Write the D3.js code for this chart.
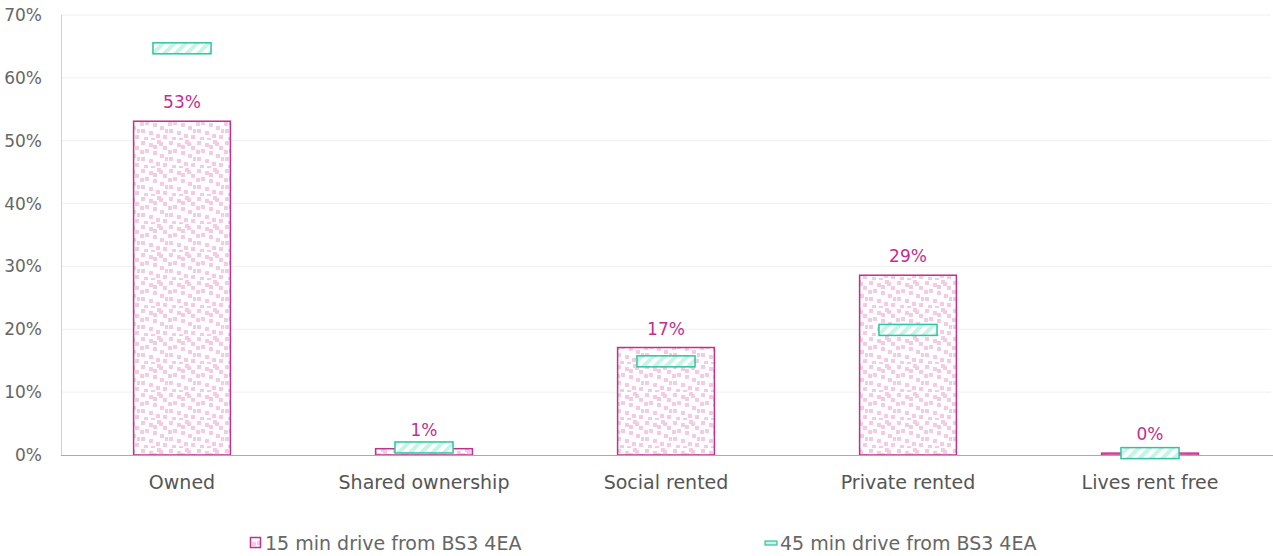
<!DOCTYPE html>
<html><head><meta charset="utf-8">
<script src="https://cdn.jsdelivr.net/npm/d3@7"></script>
<style>body{margin:0;background:#fff}svg{display:block}text{font-family:"DejaVu Sans",sans-serif}</style>
</head><body><svg id="c" width="1273" height="556"></svg>
<script>
const categories = ["Owned","Shared ownership","Social rented","Private rented","Lives rent free"];
const series15 = [53.1, 1.0, 17.1, 28.6, 0.3];
const series45 = [64.7, 1.2, 14.9, 19.9, 0.3];
const yTicks = [0,10,20,30,40,50,60,70];
const seriesNames = ["15 min drive from BS3 4EA","45 min drive from BS3 4EA"];

const svg = d3.select("#c");
const M = {l:61, r:2, t:15, b:101};
const W = 1273, H = 556;
const FS = 17, FL = 19;
const x = d3.scaleBand().domain(categories).range([M.l, W-M.r]).paddingInner(0.6).paddingOuter(0.3);
const y = d3.scaleLinear().domain([0,70]).range([H-M.b, M.t]);

const defs = svg.append("defs");
const dots = defs.append("pattern").attr("id","dots").attr("patternUnits","userSpaceOnUse").attr("width",28).attr("height",28);
dots.append("rect").attr("width",28).attr("height",28).attr("fill","#fff");
const sq = [[1,1],[9,3],[17,0],[23,6],[5,9],[13,11],[20,14],[1,17],[9,19],[16,22],[23,23],[4,25],[13,5],[0,10],[19,2],[11,26],[25,17]];
sq.forEach(([a,b])=>dots.append("rect").attr("x",a).attr("y",b).attr("width",4).attr("height",4).attr("fill","#f4cae5"));
const stripes = defs.append("pattern").attr("id","stripes").attr("patternUnits","userSpaceOnUse").attr("width",8).attr("height",8).attr("patternTransform","rotate(45)");
stripes.append("rect").attr("width",8).attr("height",8).attr("fill","#fff");
stripes.append("rect").attr("width",4).attr("height",8).attr("fill","#c6f4e6");

svg.append("g").selectAll("line").data(yTicks.filter(d=>d>0)).join("line")
  .attr("x1",M.l).attr("x2",W-M.r).attr("y1",d=>y(d)).attr("y2",d=>y(d))
  .attr("stroke","#efefef").attr("stroke-width",1);
svg.append("line").attr("x1",M.l+0.5).attr("x2",M.l+0.5).attr("y1",y(70)).attr("y2",y(0)).attr("stroke","#d0d0d0");

const yAxis = d3.axisLeft(y).tickValues(yTicks).tickFormat(d=>d+"%").tickSize(0).tickPadding(19);
const ga = svg.append("g").attr("transform",`translate(${M.l},0)`).call(yAxis);
ga.select(".domain").remove();
ga.selectAll("text").attr("fill","#666").attr("font-size",FS);

svg.append("g").selectAll("rect").data(series15).join("rect")
  .attr("x",(d,i)=>x(categories[i])).attr("width",x.bandwidth())
  .attr("y",d=>y(d)).attr("height",d=>y(0)-y(d))
  .attr("fill","url(#dots)").attr("stroke","#c0308c").attr("stroke-width",1.5);

const xAxis = d3.axisBottom(x).tickSize(0).tickPadding(21);
const gx = svg.append("g").attr("transform",`translate(0,${y(0)})`).call(xAxis);
gx.select(".domain").attr("stroke","#aaa").attr("d",`M${M.l},0.5H${W}`);
gx.selectAll("text").attr("fill","#555").attr("font-size",FL);

svg.append("g").selectAll("text").data(series15).join("text")
  .attr("x",(d,i)=>x(categories[i])+x.bandwidth()/2).attr("y",d=>y(d)-13)
  .attr("text-anchor","middle").attr("font-size",FS).attr("fill","#c0308c")
  .text(d=>Math.round(d)+"%");

const mw = x.bandwidth()*0.6, mh = 11;
svg.append("g").selectAll("rect").data(series45).join("rect")
  .attr("x",(d,i)=>x(categories[i])+x.bandwidth()/2-mw/2).attr("width",mw)
  .attr("y",d=>y(d)-mh/2).attr("height",mh)
  .attr("fill","url(#stripes)").attr("stroke","#2ec4a0").attr("stroke-width",1.5);

const lg = svg.append("g");
lg.append("rect").attr("x",250.5).attr("y",537.5).attr("width",10).attr("height",10).attr("fill","url(#dots)").attr("stroke","#c0308c").attr("stroke-width",1.5);
lg.append("text").attr("x",265).attr("y",550).attr("font-size",FL).attr("fill","#666").text(seriesNames[0]);
lg.append("rect").attr("x",765).attr("y",541).attr("width",12).attr("height",4).attr("fill","#c6f4e6").attr("stroke","#2ec4a0").attr("stroke-width",1.2);
lg.append("text").attr("x",780).attr("y",550).attr("font-size",FL).attr("fill","#666").text(seriesNames[1]);
</script></body></html>
